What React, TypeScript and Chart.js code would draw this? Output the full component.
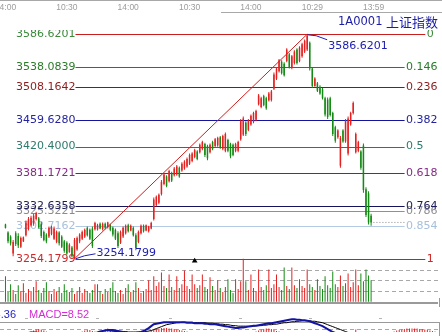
import React, { useEffect, useRef } from 'react';
import { Chart, registerables } from 'chart.js';

Chart.register(...registerables);

// ---------- data ----------
const TIME_TICK_INDEX = [0, 24, 48, 72, 96, 120, 144];
const TIME_TICK_LABELS = ['14:00', '10:30', '14:00', '10:30', '14:00', '10:29', '13:59'];

const OPEN = [
  3305, 3293, 3287, 3262, 3292, 3288, 3272, 3280, 3289, 3298,
  3304, 3306, 3313, 3314, 3306, 3294, 3290, 3287, 3291, 3284,
  3279, 3293, 3287, 3280, 3278, 3264, 3271, 3257, 3268, 3280,
  3284, 3287, 3300, 3297, 3299, 3298, 3298, 3306, 3298, 3306,
  3301, 3304, 3300, 3297, 3292, 3278, 3287, 3292, 3304, 3296,
  3300, 3289, 3279, 3292, 3303, 3296, 3295, 3299, 3313, 3334,
  3337, 3350, 3365, 3376, 3369, 3381, 3378, 3379, 3389, 3385,
  3388, 3391, 3395, 3399, 3405, 3413, 3412, 3417, 3424, 3421,
  3412, 3427, 3421, 3422, 3434, 3417, 3414, 3430, 3424, 3423,
  3414, 3414, 3431, 3438, 3456, 3445, 3453, 3457, 3460, 3483,
  3479, 3495, 3492, 3489, 3489, 3506, 3521, 3532, 3546, 3543,
  3547, 3557, 3537, 3544, 3564, 3547, 3554, 3561, 3564, 3574,
  3536, 3510, 3514, 3509, 3505, 3492, 3490, 3492, 3470, 3449,
  3434, 3392, 3444, 3428, 3410, 3453, 3470, 3412, 3414, 3413,
  3422, 3357, 3351, 3318,
];
const HIGH = [
  3306, 3295, 3289, 3282, 3295, 3292, 3287, 3287, 3311, 3316,
  3318, 3321, 3324, 3316, 3309, 3296, 3292, 3302, 3303, 3302,
  3296, 3295, 3289, 3282, 3280, 3277, 3273, 3285, 3287, 3292,
  3296, 3299, 3302, 3299, 3302, 3309, 3306, 3308, 3308, 3308,
  3309, 3306, 3302, 3299, 3295, 3296, 3302, 3305, 3306, 3305,
  3302, 3292, 3296, 3305, 3305, 3305, 3303, 3309, 3345, 3348,
  3351, 3371, 3381, 3378, 3386, 3383, 3390, 3393, 3391, 3397,
  3400, 3404, 3410, 3412, 3417, 3415, 3425, 3429, 3426, 3423,
  3425, 3429, 3433, 3435, 3436, 3438, 3441, 3432, 3426, 3425,
  3426, 3429, 3461, 3465, 3458, 3461, 3468, 3472, 3475, 3498,
  3494, 3497, 3494, 3501, 3504, 3530, 3538, 3550, 3548, 3545,
  3566, 3559, 3556, 3563, 3566, 3569, 3574, 3579, 3586.6201, 3576,
  3538, 3523, 3516, 3511, 3507, 3494, 3493, 3494, 3472, 3451,
  3446, 3436, 3446, 3461, 3465, 3472, 3487, 3441, 3429, 3415,
  3425, 3360, 3354, 3321,
];
const LOW = [
  3299, 3277, 3274, 3258, 3273, 3270, 3270, 3279, 3287, 3296,
  3302, 3303, 3311, 3299, 3285, 3280, 3277, 3285, 3289, 3282,
  3277, 3274, 3270, 3263, 3260, 3263, 3256, 3254.1799, 3266, 3277,
  3282, 3285, 3287, 3282, 3270, 3296, 3296, 3298, 3296, 3298,
  3299, 3295, 3287, 3282, 3270, 3276, 3285, 3290, 3293, 3295,
  3287, 3267, 3277, 3290, 3293, 3295, 3293, 3298, 3311, 3332,
  3335, 3348, 3363, 3360, 3367, 3368, 3376, 3377, 3374, 3383,
  3386, 3389, 3393, 3397, 3403, 3400, 3410, 3415, 3405, 3400,
  3410, 3415, 3419, 3420, 3417, 3415, 3412, 3412, 3403, 3406,
  3412, 3412, 3429, 3436, 3436, 3443, 3451, 3455, 3458, 3481,
  3477, 3480, 3475, 3487, 3487, 3504, 3519, 3530, 3527, 3524,
  3545, 3536, 3535, 3542, 3542, 3545, 3552, 3559, 3562, 3533,
  3507, 3509, 3501, 3497, 3490, 3465, 3461, 3465, 3436, 3426,
  3432, 3389, 3426, 3426, 3407, 3451, 3468, 3410, 3412, 3386,
  3352, 3316, 3305, 3303,
];
const CLOSE = [
  3300, 3280, 3277, 3279, 3276, 3274, 3285, 3286, 3308, 3313,
  3315, 3318, 3322, 3301, 3288, 3282, 3280, 3300, 3301, 3299,
  3294, 3277, 3272, 3266, 3262, 3275, 3258, 3282, 3285, 3290,
  3294, 3297, 3289, 3284, 3273, 3307, 3304, 3299, 3306, 3300,
  3308, 3297, 3290, 3284, 3273, 3294, 3300, 3303, 3295, 3303,
  3289, 3270, 3294, 3303, 3295, 3304, 3302, 3307, 3342, 3346,
  3349, 3368, 3379, 3362, 3384, 3370, 3388, 3391, 3376, 3395,
  3398, 3402, 3408, 3410, 3415, 3402, 3423, 3427, 3408, 3403,
  3423, 3417, 3431, 3433, 3419, 3436, 3439, 3414, 3406, 3408,
  3424, 3427, 3458, 3462, 3439, 3459, 3466, 3470, 3473, 3496,
  3492, 3482, 3477, 3499, 3502, 3527, 3536, 3548, 3529, 3526,
  3564, 3538, 3554, 3561, 3544, 3567, 3572, 3577, 3584, 3536,
  3510, 3521, 3503, 3499, 3492, 3468, 3464, 3467, 3439, 3429,
  3444, 3433, 3428, 3458, 3462, 3470, 3485, 3439, 3427, 3389,
  3356, 3319, 3308, 3308,
];
const VOLUME = [
  260, 100, 180, 120, 80, 170, 110, 190, 90, 130,
  100, 150, 210, 120, 90, 140, 200, 110, 80, 130,
  100, 150, 90, 180, 120, 100, 140, 80, 110, 150,
  90, 130, 110, 90, 120, 180, 180, 110, 80, 130,
  100, 140, 200, 110, 90, 120, 80, 140, 180, 100,
  120, 200, 140, 90, 110, 130, 220, 120, 260, 160,
  200, 300, 160, 140, 280, 150, 120, 260, 140, 180,
  320, 160, 130, 280, 180, 140, 170, 280, 150, 130,
  250, 160, 120, 220, 140, 100, 150, 230, 120, 90,
  230, 130, 210, 440, 210, 120, 280, 140, 110, 330,
  150, 120, 170, 330, 140, 180, 280, 150, 120, 350,
  160, 130, 350, 170, 140, 230, 160, 140, 330, 180,
  150, 120, 230, 160, 130, 260, 170, 140, 310, 180,
  150, 270, 160, 190, 290, 150, 200, 330, 170, 290,
  210, 330, 270, 220,
];
const DIF = [
  8, 7, 6, 6, 7, 7, 8, 8, 9, 10,
  11, 11, 11, 10, 9, 8, 8, 7, 7, 7,
  6, 6, 5, 4, 3, 3, 2, 2, 3, 4,
  5, 6, 7, 7, 8, 9, 11, 13, 14, 15,
  16, 16, 16, 15, 14, 13, 12, 11, 10, 10,
  10, 10, 11, 12, 14, 17, 20, 24, 28, 29,
  30, 31, 32, 32, 32, 32, 32, 32, 32, 32,
  32, 31, 31, 31, 30, 30, 30, 30, 29, 29,
  28, 28, 28, 27, 26, 25, 24, 23, 22, 21,
  20, 20, 21, 21, 22, 23, 24, 25, 25, 26,
  27, 28, 29, 30, 30, 31, 32, 33, 34, 35,
  36, 37, 38, 38, 37, 37, 36, 36, 35, 34,
  32, 30, 28, 26, 24, 21, 18, 15, 12, 10,
  8, 6, 4, 2, 0, -2, -3, -5, -7, -9,
  -11, -13, -15, -17,
];
const DEA = [
  9, 9, 8, 8, 8, 8, 8, 8, 8, 9,
  9, 9, 10, 10, 10, 10, 9, 9, 9, 8,
  8, 8, 7, 7, 6, 6, 5, 5, 5, 5,
  5, 5, 5, 6, 6, 6, 7, 8, 9, 10,
  11, 12, 12, 13, 13, 13, 13, 13, 12, 12,
  12, 12, 12, 12, 12, 13, 14, 15, 17, 19,
  21, 23, 25, 27, 28, 29, 30, 31, 31, 32,
  32, 32, 32, 32, 31, 31, 31, 31, 31, 30,
  30, 30, 29, 29, 28, 28, 27, 27, 26, 25,
  25, 24, 24, 24, 24, 24, 24, 24, 25, 25,
  25, 26, 26, 27, 27, 28, 28, 29, 30, 31,
  31, 32, 33, 33, 34, 34, 35, 35, 35, 35,
  34, 34, 33, 32, 31, 29, 27, 25, 23, 21,
  19, 17, 15, 13, 11, 9, 8, 6, 5, 4,
  3, 2, 1, 0,
];
const MACD_HIST = [
  6, 5, 4, 4, 5, 6, 7, 8, 9, 10,
  13, 15, 17, 18, 17, 15, 13, 10, 8, 6,
  4, 3, 2, 2, 3, 4, 6, 7, 8, 10,
  13, 15, 16, 16, 14, 13, 11, 14, 16, 18,
  19, 18, 16, 14, 10, 8, 6, 5, 5, 6,
  7, 8, 9, 10, 11, 11, 13, 15, 17, 18,
  19, 20, 20, 20, 19, 19, 18, 17, 16, 15,
  14, 13, 10, 9, 8, 7, 6, 5, 5, 4,
  4, 3, 3, 2, 2, 2, 3, 3, 4, 5,
  6, 7, 8, 9, 10, 10, 11, 11, 13, 15,
  17, 18, 19, 19, 18, 16, 14, 13, 11, 10,
  9, 8, 7, 6, 5, 4, 3, 3, 2, 2,
  3, 4, 5, 6, 7, 8, 9, 9, 10, 10,
  10, 11, 11, 11, 10, 10, 11, 17, 10, 9,
  8, 8, 7, 7, 8, 9, 10, 10, 11, 11,
  11, 11, 13, 15, 16, 17, 18, 19, 19, 19,
  19, 19, 18, 18, 17, 16, 15, 14, 13,
];

const SWING_LOW = 3254.1799;
const SWING_HIGH = 3586.6201;
const SWING_LOW_INDEX = 27;
const SWING_HIGH_INDEX = 118;
const FIB_RATIOS = [0, 0.146, 0.236, 0.382, 0.5, 0.618, 0.764, 0.786, 0.854, 1];
const FIB_RATIO_TEXT = ['0', '0.146', '0.236', '0.382', '0.5', '0.618', '0.764', '0.786', '0.854', '1'];
const FIB_PRICE_TEXT = [
  '3586.6201', '3538.0839', '3508.1642', '3459.6280', '3420.4000',
  '3381.1721', '3332.6358', '3325.3221', '3302.7162', '3254.1799',
];
const VOLUME_GRID = [110, 220, 330];
const MARKER_INDEX = 74;
const MARKER_PRICE = 3251;
const TITLE_CODE = '1A0001';
const TITLE_NAME = '上证指数';
const MACD_PREV_TEXT = '5.36';
const MACD_TEXT = 'MACD=8.52';

// ---------- styles ----------
const FIB_LINE_COLORS = ['#c81e1e', '#1e821e', '#8c1414', '#14149c', '#1e7a6c', '#82187e', '#14145e', '#909090', '#b4cae2', '#d21c1c'];
const FIB_TEXT_COLORS = ['#3a8a3a', '#2a7a2a', '#8c1c1c', '#2424a0', '#2e7a6e', '#862a86', '#1c1c5c', '#8c8c8c', '#a6c0dc', '#d02828'];
const RED = '#e42020';
const GREEN = '#148a14';
const W = 442;
const H = 336;
const X_FIRST_PX = 1.5;
const X_STEP_PX = 2.604;
const PRICE_TOP_PX = 31;
const PRICE_BOTTOM_PX = 261;
const VOL_BASE_PX = 305;
const VOL_UNITS_PER_PX = 10;
const MACD_BASE_PX = 342;
const MACD_UNITS_PER_PX = 2;
const LINE_END_INDEX = 156.1;
const OUTER_LINE_END_INDEX = 164.2;

const X_MIN = -X_FIRST_PX / X_STEP_PX;
const X_MAX = X_MIN + W / X_STEP_PX;
const PRICE_PER_PX = (SWING_HIGH - SWING_LOW) / (PRICE_BOTTOM_PX - PRICE_TOP_PX);
const PRICE_MAX = SWING_HIGH + PRICE_TOP_PX * PRICE_PER_PX;
const PRICE_MIN = SWING_HIGH - (H - PRICE_TOP_PX) * PRICE_PER_PX;

const overlay = {
  id: 'overlay',
  beforeDatasetsDraw(chart: any) {
    const ctx = chart.ctx as CanvasRenderingContext2D;
    const xs = chart.scales.x;
    const yp = chart.scales.yPrice;
    const yv = chart.scales.yVol;
    ctx.save();
    // frame lines
    ctx.fillStyle = '#a8a8a8';
    ctx.fillRect(0, 0, W, 1);
    ctx.fillRect(221, 12, W - 221, 1);
    ctx.fillStyle = '#9a9a9a';
    ctx.fillRect(0, Math.round(yv.getPixelForValue(0)), 438, 2);
    ctx.fillRect(439, 298, 1, 9);
    ctx.fillRect(0, 322, 440, 1);
    ctx.fillRect(439, 322, 1, 14);
    // volume grid
    ctx.strokeStyle = '#a8a8a8';
    ctx.lineWidth = 1;
    ctx.setLineDash([4, 3]);
    VOLUME_GRID.forEach((v) => {
      const y = Math.round(yv.getPixelForValue(v)) + 0.5;
      ctx.beginPath();
      ctx.moveTo(0, y);
      ctx.lineTo(438, y);
      ctx.stroke();
    });
    ctx.beginPath();
    ctx.moveTo(0, 329.5);
    ctx.lineTo(438, 329.5);
    ctx.stroke();
    ctx.setLineDash([]);
    // time labels
    ctx.font = '8.5px "Liberation Sans"';
    ctx.fillStyle = '#9c9c9c';
    ctx.textAlign = 'center';
    ctx.textBaseline = 'middle';
    TIME_TICK_INDEX.forEach((t, k) => {
      ctx.fillText(TIME_TICK_LABELS[k], xs.getPixelForValue(t), 8);
    });
    // fib lines
    const x0 = xs.getPixelForValue(SWING_LOW_INDEX) + 1;
    FIB_RATIOS.forEach((r, k) => {
      const p = SWING_HIGH - r * (SWING_HIGH - SWING_LOW);
      const y = Math.round(yp.getPixelForValue(p)) + 0.5;
      const outer = r === 0 || r === 1;
      const x1 = xs.getPixelForValue(outer ? OUTER_LINE_END_INDEX : LINE_END_INDEX);
      ctx.strokeStyle = FIB_LINE_COLORS[k];
      ctx.beginPath();
      ctx.moveTo(x0, y);
      ctx.lineTo(x1, y);
      ctx.stroke();
    });
    // fib labels (clipped below header)
    ctx.save();
    ctx.beginPath();
    ctx.rect(0, 30, W, H);
    ctx.clip();
    ctx.font = '11px "DejaVu Sans"';
    const order = [0, 1, 2, 3, 4, 5, 7, 6, 8, 9];
    order.forEach((k) => {
      const r = FIB_RATIOS[k];
      const p = SWING_HIGH - r * (SWING_HIGH - SWING_LOW);
      const y = yp.getPixelForValue(p);
      const outer = r === 0 || r === 1;
      const x1 = xs.getPixelForValue(outer ? OUTER_LINE_END_INDEX : LINE_END_INDEX);
      ctx.fillStyle = FIB_TEXT_COLORS[k];
      ctx.textAlign = 'right';
      ctx.fillText(FIB_PRICE_TEXT[k], x0, y);
      ctx.textAlign = 'left';
      ctx.fillText(FIB_RATIO_TEXT[k], x1 + 1.5, y);
    });
    ctx.restore();
    // MACD caption row
    ctx.font = '11px "Liberation Sans"';
    ctx.textBaseline = 'middle';
    ctx.textAlign = 'right';
    ctx.fillStyle = '#2424c4';
    ctx.fillText(MACD_PREV_TEXT, 16, 315);
    ctx.textAlign = 'left';
    ctx.fillStyle = '#d42cd4';
    ctx.fillText(MACD_TEXT, 29, 315);
    ctx.fillStyle = '#b4b4b4';
    [26, 97, 170, 240, 310, 380].forEach((x) => ctx.fillRect(x - 1, 318, 3, 1));
    ctx.restore();
  },
  afterDatasetsDraw(chart: any) {
    const ctx = chart.ctx as CanvasRenderingContext2D;
    const xs = chart.scales.x;
    const yp = chart.scales.yPrice;
    ctx.save();
    ctx.strokeStyle = '#2020b0';
    ctx.fillStyle = '#2020b0';
    ctx.lineWidth = 1;
    ctx.font = '11px "DejaVu Sans"';
    ctx.textBaseline = 'middle';
    ctx.textAlign = 'left';
    // swing low annotation
    const lx = xs.getPixelForValue(SWING_LOW_INDEX);
    const ly = yp.getPixelForValue(SWING_LOW);
    ctx.beginPath();
    ctx.moveTo(lx + 1, ly);
    ctx.lineTo(lx + 10, ly - 3);
    ctx.lineTo(lx + 21, ly - 5);
    ctx.stroke();
    ctx.fillText(FIB_PRICE_TEXT[9], lx + 22, ly - 6);
    // swing high annotation
    const hx = xs.getPixelForValue(SWING_HIGH_INDEX);
    const hy = yp.getPixelForValue(SWING_HIGH);
    ctx.beginPath();
    ctx.moveTo(hx, hy + 0.5);
    ctx.lineTo(hx + 9, hy + 1.5);
    ctx.lineTo(hx + 20, hy + 5.5);
    ctx.stroke();
    ctx.fillText(FIB_PRICE_TEXT[0], hx + 21, hy + 12);
    // title
    ctx.fillStyle = '#1c1ca8';
    ctx.font = '11.5px "DejaVu Sans"';
    ctx.fillText(TITLE_CODE, 338, 22);
    ctx.font = '13px "Noto Sans CJK SC"';
    ctx.fillText(TITLE_NAME, 386, 22);
    ctx.restore();
  },
};

export default function App() {
  const ref = useRef<HTMLCanvasElement>(null);
  useEffect(() => {
    const canvas = ref.current;
    if (!canvas) return;
    document.body.style.margin = '0';
    const idx = CLOSE.map((_, i) => i);
    const colors = idx.map((i) => (CLOSE[i] >= OPEN[i] ? RED : GREEN));
    const last = CLOSE.length - 1;
    const chart = new Chart(canvas, {
      type: 'bar',
      data: {
        datasets: [
          {
            type: 'line',
            data: [
              { x: SWING_LOW_INDEX, y: SWING_LOW },
              { x: SWING_HIGH_INDEX, y: SWING_HIGH },
            ],
            borderColor: '#d21c1c',
            borderWidth: 1,
            pointRadius: 0,
            xAxisID: 'x',
            yAxisID: 'yPrice',
          },
          {
            type: 'line',
            data: [
              { x: last + 0.9, y: CLOSE[last] },
              { x: LINE_END_INDEX, y: CLOSE[last] },
            ],
            borderColor: '#8a8a8a',
            borderWidth: 1,
            borderDash: [1, 2],
            pointRadius: 0,
            xAxisID: 'x',
            yAxisID: 'yPrice',
          },
          {
            type: 'scatter',
            data: [{ x: MARKER_INDEX, y: MARKER_PRICE }],
            pointStyle: 'triangle',
            pointRadius: 3.3,
            backgroundColor: '#000',
            borderColor: '#000',
            borderWidth: 0,
            xAxisID: 'x',
            yAxisID: 'yPrice',
          },
          {
            type: 'bar',
            data: idx.map((i) => ({ x: i, y: [Math.min(OPEN[i], CLOSE[i]), Math.max(OPEN[i], CLOSE[i])] })),
            backgroundColor: colors,
            barThickness: 1.5,
            inflateAmount: 0,
            grouped: false,
            xAxisID: 'x',
            yAxisID: 'yPrice',
          },
          {
            type: 'bar',
            data: idx.map((i) => ({ x: i, y: [LOW[i], HIGH[i]] })),
            backgroundColor: colors,
            barThickness: 1,
            inflateAmount: 0,
            grouped: false,
            xAxisID: 'x',
            yAxisID: 'yPrice',
          },
          {
            type: 'bar',
            data: idx.map((i) => ({ x: i, y: VOLUME[i] })),
            backgroundColor: colors,
            barThickness: 1,
            inflateAmount: 0,
            grouped: false,
            xAxisID: 'x',
            yAxisID: 'yVol',
          },
          {
            type: 'line',
            data: idx.map((i) => ({ x: i, y: DIF[i] })),
            borderColor: '#1414a4',
            borderWidth: 2,
            pointRadius: 0,
            xAxisID: 'x',
            yAxisID: 'yMacd',
          },
          {
            type: 'line',
            data: idx.map((i) => ({ x: i, y: DEA[i] })),
            borderColor: '#000000',
            borderWidth: 1,
            pointRadius: 0,
            xAxisID: 'x',
            yAxisID: 'yMacd',
          },
          {
            type: 'bar',
            data: MACD_HIST.map((v, i) => ({ x: i, y: v })),
            backgroundColor: RED,
            barThickness: 1,
            inflateAmount: 0,
            grouped: false,
            xAxisID: 'x',
            yAxisID: 'yMacd',
          },
        ],
      } as any,
      options: {
        animation: false,
        responsive: false,
        devicePixelRatio: 1,
        events: [],
        layout: { padding: 0 },
        plugins: { legend: { display: false }, tooltip: { enabled: false } },
        scales: {
          x: { type: 'linear', min: X_MIN, max: X_MAX, display: false, offset: false },
          yPrice: { type: 'linear', min: PRICE_MIN, max: PRICE_MAX, display: false },
          yVol: {
            type: 'linear',
            min: -(H - VOL_BASE_PX) * VOL_UNITS_PER_PX,
            max: VOL_BASE_PX * VOL_UNITS_PER_PX,
            display: false,
          },
          yMacd: {
            type: 'linear',
            min: (MACD_BASE_PX - H) * MACD_UNITS_PER_PX,
            max: MACD_BASE_PX * MACD_UNITS_PER_PX,
            display: false,
          },
        },
      } as any,
      plugins: [overlay],
    });
    return () => chart.destroy();
  }, []);
  return (
    <div style={{ position: 'absolute', left: 0, top: 0, width: W, height: H, background: '#fff' }}>
      <canvas ref={ref} width={W} height={H} style={{ display: 'block' }} />
    </div>
  );
}
